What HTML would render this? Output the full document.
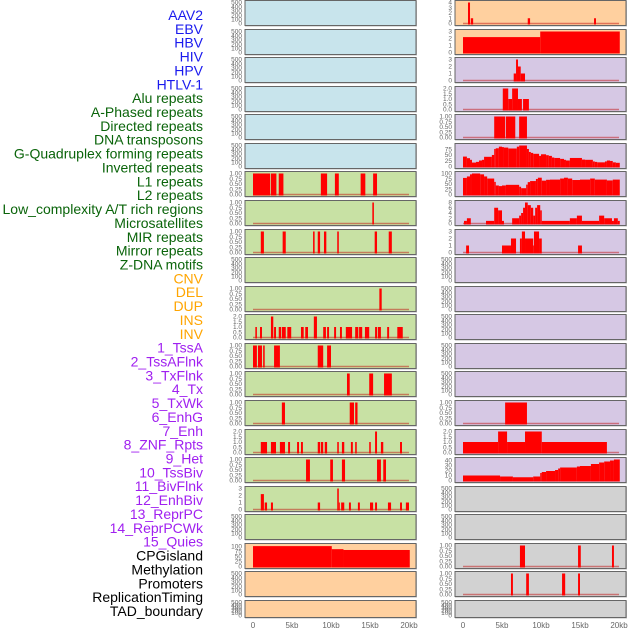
<!DOCTYPE html>
<html><head><meta charset="utf-8">
<style>
html,body{margin:0;padding:0;background:#fff;width:630px;height:630px;overflow:hidden}
svg{display:block}
</style></head>
<body>
<svg id="chart" width="630" height="630" xmlns="http://www.w3.org/2000/svg" font-family="Liberation Sans, sans-serif"></svg>
<script>
const trackLabels = ["AAV2","EBV","HBV","HIV","HPV","HTLV-1","Alu repeats","A-Phased repeats","Directed repeats","DNA transposons","G-Quadruplex forming repeats","Inverted repeats","L1 repeats","L2 repeats","Low_complexity A/T rich regions","Microsatellites","MIR repeats","Mirror repeats","Z-DNA motifs","CNV","DEL","DUP","INS","INV","1_TssA","2_TssAFlnk","3_TxFlnk","4_Tx","5_TxWk","6_EnhG","7_Enh","8_ZNF_Rpts","9_Het","10_TssBiv","11_BivFlnk","12_EnhBiv","13_ReprPC","14_ReprPCWk","15_Quies","CPGisland","Methylation","Promoters","ReplicationTiming","TAD_boundary"];
const labelColors = ["#1a1aee","#1a1aee","#1a1aee","#1a1aee","#1a1aee","#1a1aee",
 "#0a640a","#0a640a","#0a640a","#0a640a","#0a640a","#0a640a","#0a640a","#0a640a","#0a640a","#0a640a","#0a640a","#0a640a","#0a640a",
 "#ffa500","#ffa500","#ffa500","#ffa500","#ffa500",
 "#a020f0","#a020f0","#a020f0","#a020f0","#a020f0","#a020f0","#a020f0","#a020f0","#a020f0","#a020f0","#a020f0","#a020f0","#a020f0","#a020f0","#a020f0",
 "#000","#000","#000","#000","#000"];
const xTicks = [0,5,10,15,20];
const xTickLabels = ["0","5kb","10kb","15kb","20kb"];

const t500 = ["0","100","200","300","400","500"];
const t1 = ["0.00","0.25","0.50","0.75","1.00"];
const t2 = ["0.0","0.5","1.0","1.5","2.0"];
const t3 = ["0","1","2","3"];
const t4 = ["0","1","2","3","4"];
const t75 = ["0","25","50","75"];
const t100 = ["0","25","50","75","100"];
const t8 = ["0","2","4","6","8"];
const t40 = ["0","10","20","30","40"];

// segments: [startKb, endKb, value]
const segL6 = [[0,2.2,1],[2.3,3.0,1],[3.3,3.9,1],[8.7,9.5,1],[10.5,11.0,1],[13.8,14.4,1],[15.4,15.9,1]];
const segL7 = [[15.3,15.5,1]];
const segL8 = [[1.0,1.4,1],[3.8,4.2,1],[7.7,7.9,1],[8.3,8.6,1],[9.1,9.4,1],[10.8,11.0,1],[15.6,15.9,1],[17.4,17.8,1]];
const segL10 = [[16.2,16.5,1]];
const segL11 = [[0.3,0.5,1],[0.9,1.15,1],[2.3,2.6,2],[2.7,2.95,1],[3.3,3.6,1],[3.7,4.2,1],[4.4,4.9,1],[6.15,6.5,1],[6.7,7.05,1],[7.8,8.2,2],[9.0,9.35,1],[9.5,9.75,1],[10.4,10.65,1],[11.15,11.4,1],[11.9,12.7,1],[13.1,13.5,1],[13.6,14.0,1],[14.35,14.9,1],[15.65,15.9,1],[16.0,16.4,1],[17.2,17.45,1],[18.5,19.2,1]];
const segL12 = [[0,0.5,1],[0.64,1.15,1],[1.3,1.5,1],[2.7,3.45,1],[8.3,9.0,1],[9.5,10.0,1]];
const segL13 = [[12.05,12.4,1],[14.9,15.4,1],[16.8,17.8,1]];
const segL14 = [[3.7,4.1,1],[12.4,12.95,1],[13.1,13.4,1]];
const segL15 = [[1.0,1.8,1],[2.3,2.95,1],[3.45,4.1,1],[4.5,4.75,1],[5.65,5.9,1],[6.15,6.4,1],[8.3,8.6,1],[8.7,9.0,1],[9.2,9.5,1],[10.8,11.0,1],[11.4,11.7,1],[12.55,12.8,1],[13.1,13.3,1],[14.9,15.1,1],[15.65,15.9,2],[16.4,16.7,1],[18.85,19.1,1]];
const segL16 = [[6.8,7.3,1],[9.9,10.25,1],[11.4,11.8,1],[15.9,16.4,1],[16.7,17.05,1]];
const segL17 = [[1.0,1.4,2.2],[1.5,1.8,1],[2.3,2.56,1],[8.3,8.6,1],[10.8,11.0,3],[11.0,11.1,1],[11.3,11.7,1],[12.3,12.55,1],[13.45,13.7,1],[15.0,15.4,1],[15.65,15.9,1],[17.3,17.7,1],[18.85,19.1,1],[19.6,20.0,1]];
const segL19 = [[0,10.1,100],[10.1,11.6,85],[11.6,20.1,81]];

const segR0 = [[0.64,0.9,4],[1.0,1.3,1],[8.3,8.6,1],[16.8,17.05,1]];
const segR1 = [[0,9.9,2.2],[9.9,20.1,3]];
const segR2 = [[6.5,6.8,1],[6.8,7.05,3],[7.05,7.4,2],[7.4,7.95,1]];
const segR3 = [[5.1,5.8,2],[5.8,6.3,1],[6.3,7.05,2],[7.05,7.55,1],[7.7,8.45,1]];
const segR4 = [[4.0,5.4,1],[5.5,6.7,1],[7.2,8.2,1]];
const edgesR5 = [0,0.5,0.9,1.15,1.67,2.05,2.44,2.7,3.7,4.0,4.2,4.6,5.0,5.25,5.8,6.9,7.2,8.2,8.45,8.7,9.0,9.75,10.0,10.65,11.0,11.4,11.7,12.45,12.95,13.2,13.7,15.25,15.65,16.65,16.9,17.2,18.2,18.45,18.85,19.2,19.6,20.1];
const valuesR5 = [43,36,29,17,20,26,29,42,50,76,79,86,84,82,78,86,91,76,63,59,55,46,53,49,46,39,37,33,29,26,37,30,29,22,20,18,22,26,24,18,16];
const edgesR6 = [0,0.5,0.9,1.15,2.2,2.7,3.1,4.0,4.2,4.6,5.0,5.5,7.2,7.45,8.1,8.3,8.6,9.35,9.6,10.1,10.65,11.15,12.45,12.95,13.45,14.0,15.0,16.3,16.9,18.45,19.2,20.1];
const valuesR6 = [79,86,96,100,96,86,76,60,43,40,43,46,37,30,47,59,64,74,80,66,70,71,76,80,76,69,71,76,71,67,71];
const edgesR7 = [0.13,0.5,1.0,2.95,4.0,4.5,5.0,5.25,6.3,7.2,7.45,7.7,7.95,8.3,8.7,9.0,9.25,9.5,9.9,10.1,13.7,14.6,15.25,17.45,18.1,19.1,19.35,19.85,20.1];
const valuesR7 = [1,2,0,1,6,5,1,0,2,3,4,6,8,7,6,3,6,7,5,1,2,3,1,3,2,1,2,1];
const segR8 = [[0.4,0.77,1],[5.0,6.15,1],[6.15,6.8,2],[7.3,7.55,2],[7.55,7.95,3],[7.95,9.0,2],[9.0,9.1,1],[9.1,9.75,3],[9.75,10.1,2],[14.75,15.25,1]];
const segR14 = [[5.4,8.2,1]];
const segR15 = [[0,4.5,1],[4.5,5.65,2],[5.65,7.95,1],[7.95,10.1,2],[10.1,18.45,1]];
const edgesR16 = [0,4.75,6.4,9.0,9.9,10.1,10.65,11.8,12.2,12.45,14.6,15.0,16.4,17.45,18.1,18.85,19.35,20.1];
const valuesR16 = [10,8,6.5,8,15,17,19,21,24,26,28,29,33,36,38,40,42];
const segR19 = [[7.3,7.95,1],[14.75,15.1,1],[19.1,19.35,1]];
const segR20 = [[6.15,6.4,1],[8.1,8.45,1],[12.7,13.1,1],[14.75,15.0,1]];

function steps(edges, vals){const s=[];for(let i=0;i<vals.length;i++)s.push([edges[i],edges[i+1],vals[i]]);return s;}

const BLUE="#c8e4ec",GREEN="#c8e1a4",ORANGE="#ffd09f",PURPLE="#d6c8e4",GRAY="#d2d2d2";
// [col,row,bg,ticks,ymax,segments]
const tracks = [
 [0,0,BLUE,t500,500,null],[0,1,BLUE,t500,500,null],[0,2,BLUE,t500,500,null],[0,3,BLUE,t500,500,null],[0,4,BLUE,t500,500,null],[0,5,BLUE,t500,500,null],
 [0,6,GREEN,t1,1,segL6],[0,7,GREEN,t1,1,segL7],[0,8,GREEN,t1,1,segL8],[0,9,GREEN,t500,500,null],[0,10,GREEN,t1,1,segL10],
 [0,11,GREEN,t2,2,segL11],[0,12,GREEN,t1,1,segL12],[0,13,GREEN,t1,1,segL13],[0,14,GREEN,t1,1,segL14],[0,15,GREEN,t2,2,segL15],
 [0,16,GREEN,t1,1,segL16],[0,17,GREEN,t3,3,segL17],[0,18,GREEN,t500,500,null],
 [0,19,ORANGE,t100,103,segL19],[0,20,ORANGE,t500,500,null],[0,21,ORANGE,t500,500,null],
 [1,0,ORANGE,t4,4,segR0],[1,1,ORANGE,t3,3,segR1],[1,2,PURPLE,t3,3,segR2],[1,3,PURPLE,t2,2,segR3],[1,4,PURPLE,t1,1,segR4],
 [1,5,PURPLE,t75,91,steps(edgesR5,valuesR5)],[1,6,PURPLE,t100,100,steps(edgesR6,valuesR6)],[1,7,PURPLE,t8,8,steps(edgesR7,valuesR7)],
 [1,8,PURPLE,t3,3,segR8],[1,9,PURPLE,t500,500,null],[1,10,PURPLE,t500,500,null],[1,11,PURPLE,t500,500,null],[1,12,PURPLE,t500,500,null],
 [1,13,PURPLE,t500,500,null],[1,14,PURPLE,t1,1,segR14],[1,15,PURPLE,t2,2,segR15],[1,16,PURPLE,t40,42,steps(edgesR16,valuesR16)],
 [1,17,GRAY,t500,500,null],[1,18,GRAY,t500,500,null],[1,19,GRAY,t1,1,segR19],[1,20,GRAY,t1,1,segR20],[1,21,GRAY,t500,500,null]
];

const NS="http://www.w3.org/2000/svg";
const svg=document.getElementById('chart');
function mk(tag,attrs,parent){const e=document.createElementNS(NS,tag);for(const k in attrs)e.setAttribute(k,attrs[k]);(parent||svg).appendChild(e);return e;}
const panelX=[245,455], zeroX=[253,463], kbPx=7.8;
function xScale(kb,col){return zeroX[col]+kb*kbPx;}
function rowTop(r){return Math.round(r*28.57)+0.5;}
function rowH(r){return r===21?17:25;}
function yScale(v,r,ymax){const t=rowTop(r),h=rowH(r);return t+h-2-(v/ymax)*(h-4);}

// labels
trackLabels.forEach((name,i)=>{
  const t=mk('text',{x:203,y:15+i*13.86+5,'text-anchor':'end','font-size':'14',fill:labelColors[i]});
  
  
  t.textContent=name;
});

tracks.forEach(tr=>{
  const [col,row,bg,ticks,ymax,segs]=tr;
  const g=mk('g',{});
  
  
  const top=rowTop(row),h=rowH(row);
  mk('rect',{x:panelX[col]+0.5,y:top+0.5,width:171,height:h,fill:'none',stroke:'#bbb','stroke-width':1},g);
  const bgRect=mk('rect',{x:panelX[col],y:top,width:171,height:h,fill:bg,stroke:'#666','stroke-width':1},g);
  
  
  const n=ticks.length;
  const tickMax=parseFloat(ticks[n-1]);
  ticks.forEach(lbl=>{
    const v=parseFloat(lbl);
    const yy=yScale(v,row,ymax===500?500:ymax);
    const tt=mk('text',{x:panelX[col]-3,y:yy+2.2,'text-anchor':'end','font-size':'6.5',fill:'#666'},g);
    
    
    tt.textContent=lbl;
  });
  if(segs){
    const y0=yScale(0,row,ymax);
    if(!(col===0&&row===19)){
      const bl=mk('line',{x1:xScale(0,col),x2:xScale(20,col),y1:y0,y2:y0,stroke:'rgba(190,0,0,0.45)','stroke-width':1.6},g);
      
      
    }
    segs.forEach(s=>{
      if(s[2]<=0)return;
      const x1=xScale(s[0],col),x2=xScale(s[1],col),yv=Math.max(yScale(s[2],row,ymax),top+0.5);
      const b=mk('rect',{x:x1,y:yv,width:Math.max(x2-x1,1),height:y0-yv+1,fill:'#ff0000'},g);
      
      
    });
  }
});

// x axes
[0,1].forEach(col=>{
  xTicks.forEach((v,i)=>{
    const t=mk('text',{x:xScale(v,col),y:628,'text-anchor':'middle','font-size':'8',fill:'#666'});
    
    
    t.textContent=xTickLabels[i];
  });
});
</script>
</body></html>
